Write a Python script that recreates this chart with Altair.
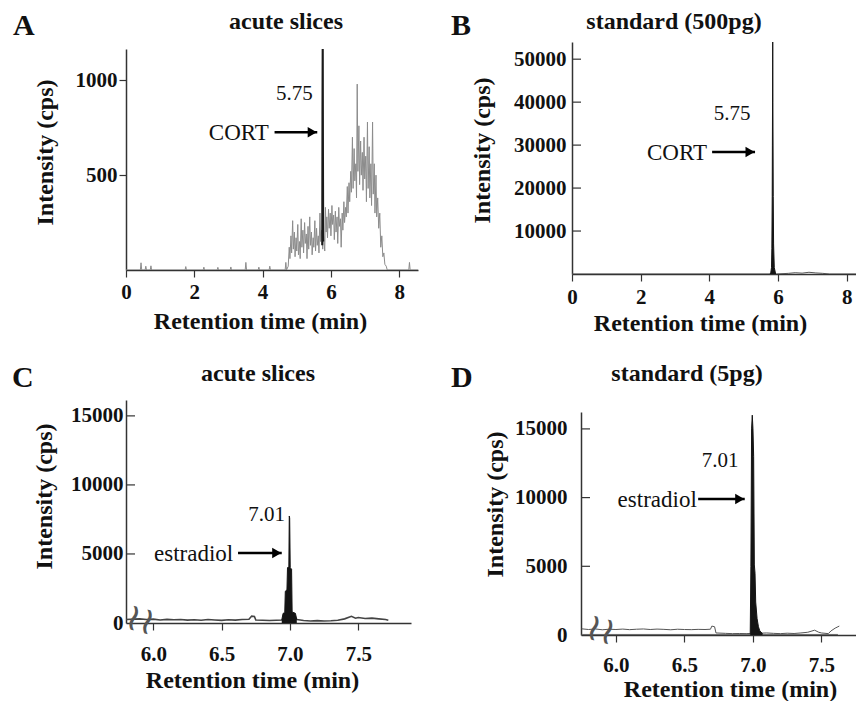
import altair as alt
import pandas as pd

SERIF = "Liberation Serif"
AX = "#333333"
INK = "#111111"

# ---------------- Panel A: acute slices (CORT) ----------------
a_base_x = [0.0, 0.42, 0.44, 0.46, 0.56, 0.58, 0.60, 0.71, 0.73, 0.75, 1.73, 1.75, 1.77,
            2.26, 2.28, 2.30, 2.67, 2.69, 2.71, 3.05, 3.07, 3.09, 3.49, 3.51, 3.53,
            3.87, 3.89, 3.91, 4.19, 4.21, 4.23, 4.66, 4.68, 4.70]
a_base_y = [0, 0, 38, 0, 0, 20, 0, 0, 22, 0, 0, 18, 0,
            0, 15, 0, 0, 14, 0, 0, 16, 0, 0, 40, 0,
            0, 15, 0, 0, 20, 0, 0, 40, 0]
a_noise_x = [4.75, 4.78, 4.80, 4.83, 4.85, 4.88, 4.90, 4.93, 4.95, 4.98,
             5.00, 5.03, 5.05, 5.08, 5.10, 5.13, 5.15, 5.18, 5.20, 5.23,
             5.25, 5.28, 5.30, 5.33, 5.35, 5.38, 5.40, 5.43, 5.45, 5.48,
             5.50, 5.53, 5.55, 5.58, 5.60, 5.63, 5.65, 5.68, 5.70, 5.73,
             5.76, 5.78, 5.82, 5.84, 5.86, 5.88, 5.90, 5.93, 5.95, 5.98,
             6.00, 6.03, 6.05, 6.08, 6.10, 6.13, 6.15, 6.18, 6.20, 6.23,
             6.25, 6.28, 6.30, 6.33, 6.35, 6.38, 6.40, 6.43, 6.45, 6.48,
             6.50, 6.53, 6.55, 6.58, 6.60, 6.63, 6.65, 6.68, 6.70, 6.73,
             6.75, 6.77, 6.79, 6.82, 6.84, 6.87, 6.89, 6.92, 6.94, 6.97,
             6.99, 7.02, 7.04, 7.07, 7.09, 7.12, 7.14, 7.17, 7.19, 7.22,
             7.24, 7.27, 7.29, 7.32, 7.34, 7.37, 7.40, 7.43, 7.46, 7.49,
             7.52, 7.55, 7.58, 7.62, 7.65]
a_noise_y = [20, 120, 60, 180, 90, 260, 110, 200, 70, 170,
             100, 240, 80, 150, 60, 270, 120, 210, 90, 250,
             140, 190, 60, 230, 110, 280, 130, 200, 80, 170,
             120, 260, 100, 220, 130, 180, 90, 300, 150, 210,
             110, 190, 100, 330, 200, 280, 170, 320, 220, 300,
             180, 340, 240, 290, 160, 310, 200, 280, 140, 330,
             230, 270, 120, 300, 210, 360, 250, 330, 280, 440,
             300, 460, 360, 520, 410, 700, 430, 640, 470, 560,
             380, 980, 520, 760, 450, 680, 500, 620, 420, 700,
             480, 600, 360, 780, 430, 650, 380, 560, 340, 780,
             400, 560, 300, 500, 280, 380, 220, 300, 120, 180,
             70, 90, 30, 20, 0]
a_tail_x = [8.28, 8.30, 8.32, 8.55]
a_tail_y = [0, 40, 0, 0]
a_peak_x = [5.745, 5.752, 5.758, 5.762, 5.768, 5.775]
a_peak_y = [130, 820, 1160, 1160, 600, 150]

# ---------------- Panel B: standard 500 pg (CORT) ----------------
b_base_x = [0.0, 5.75, 5.95, 6.3, 6.5, 6.7, 6.9, 7.1, 7.3, 7.5, 8.3]
b_base_y = [0, 0, 0, 150, 300, 200, 400, 250, 150, 0, 0]
b_peak_x = [5.77, 5.79, 5.81, 5.82, 5.83, 5.835, 5.84, 5.845, 5.85, 5.86, 5.87, 5.89, 5.93]
b_peak_y = [0, 400, 1500, 6000, 18000, 30000, 40500, 54000, 40000, 18000, 7000, 1500, 0]

# ---------------- Panel C: acute slices (estradiol) ----------------
c_base_x = [5.80, 5.86, 5.90, 5.95, 6.00, 6.05, 6.10, 6.15, 6.20, 6.25, 6.30, 6.35, 6.40,
            6.45, 6.50, 6.55, 6.60, 6.65, 6.70, 6.72, 6.74, 6.75, 6.80, 6.85, 6.90, 6.95,
            7.00, 7.05, 7.10, 7.15, 7.20, 7.25, 7.30, 7.35, 7.40, 7.45, 7.48, 7.50, 7.55,
            7.60, 7.65, 7.70, 7.72]
c_base_y = [250, 280, 300, 250, 280, 220, 260, 230, 250, 210, 240, 200, 250,
            220, 190, 230, 210, 250, 270, 500, 480, 220, 200, 180, 200, 220,
            260, 250, 180, 150, 170, 140, 160, 200, 300, 480, 350, 400, 330,
            350, 300, 250, 200]
c_peak_x = [6.94, 6.95, 6.962, 6.966, 6.978, 6.982, 6.992, 6.995, 6.998, 7.002,
            7.012, 7.016, 7.04, 7.05]
c_peak_y = [220, 700, 750, 2300, 2400, 4000, 4100, 7750, 7600, 4000,
            3900, 800, 700, 250]

# ---------------- Panel D: standard 5 pg (estradiol) ----------------
d_base_x = [5.75, 5.80, 5.85, 5.90, 5.95, 6.00, 6.05, 6.10, 6.15, 6.20, 6.25, 6.30,
            6.35, 6.40, 6.45, 6.50, 6.55, 6.60, 6.65, 6.69, 6.70, 6.72, 6.73, 6.80,
            6.85, 6.90, 6.95, 7.00, 7.05, 7.10, 7.15, 7.20, 7.25, 7.30, 7.35, 7.40,
            7.45, 7.48, 7.50, 7.55, 7.57, 7.60, 7.62, 7.63]
d_base_y = [450, 400, 440, 380, 420, 400, 430, 390, 420, 440, 400, 430,
            410, 380, 420, 400, 390, 410, 400, 420, 650, 600, 150, 120,
            100, 110, 100, 120, 130, 150, 120, 100, 130, 110, 150, 200,
            350, 200, 150, 100, 300, 500, 600, 650]
d_floor_x = [5.75, 7.62]
d_floor_y = [40, 40]
d_peak_x = [6.98, 6.985, 6.99, 6.995, 7.0, 7.005, 7.01, 7.015, 7.02, 7.03, 7.04, 7.05, 7.07]
d_peak_y = [100, 5000, 15000, 16000, 15000, 13000, 5100, 4500, 2400, 1200, 600, 300, 100]

# ---------------- annotations (data units) ----------------
panels = {
    "A": dict(title="acute slices", xdom=[0, 8.55], ydom=[0, 1165],
              xticks=[0, 2, 4, 6, 8], xfmt="d", yticks=[500, 1000],
              num="5.75", num_xy=[4.93, 930], name="CORT", name_xy=[4.18, 726],
              arrow=[4.35, 5.6, 726]),
    "B": dict(title="standard (500pg)", xdom=[0, 8.27], ydom=[0, 54000],
              xticks=[0, 2, 4, 6, 8], xfmt="d", yticks=[10000, 20000, 30000, 40000, 50000],
              num="5.75", num_xy=[4.66, 37200], name="CORT", name_xy=[3.93, 28400],
              arrow=[4.08, 5.33, 28400]),
    "C": dict(title="acute slices", xdom=[5.80, 7.886], ydom=[0, 16150],
              xticks=[6.0, 6.5, 7.0, 7.5], xfmt=".1f", yticks=[0, 5000, 10000, 15000],
              num="7.01", num_xy=[6.83, 7830], name="estradiol", name_xy=[6.585, 5070],
              arrow=[6.62, 6.94, 5070], brk=[5.905, 150]),
    "D": dict(title="standard (5pg)", xdom=[5.745, 7.752], ydom=[0, 16230],
              xticks=[6.0, 6.5, 7.0, 7.5], xfmt=".1f", yticks=[0, 5000, 10000, 15000],
              num="7.01", num_xy=[6.76, 12660], name="estradiol", name_xy=[6.59, 9900],
              arrow=[6.60, 6.94, 9900], brk=[5.89, 300]),
}

# layout / style (pixels): w, h = group size; top = where the y range ends inside the group
style = {
    "A": dict(w=292, h=228, top=7, yout=True, ylabpad=2, ytx=-81, yty=110, xlabpad=4,
              xtx=134, xty=58, let=(-113, -7), tit=(160, -13)),
    "B": dict(w=284, h=232, top=0, yout=False, ylabpad=6, ytx=-90, yty=108, xlabpad=5,
              xtx=128, xty=56, let=(-121, -7), tit=(102, -13)),
    "C": dict(w=285, h=223, top=0, yout=False, ylabpad=3, ytx=-82, yty=96, xlabpad=13,
              xtx=126, xty=64, let=(-114, -13), tit=(132, -19)),
    "D": dict(w=275, h=235, top=12, yout=False, ylabpad=14, ytx=-86, yty=104, xlabpad=12,
              xtx=149, xty=61, let=(-130, -13), tit=(106, -19)),
}


def one_row(**kw):
    return pd.DataFrame({k: [v] for k, v in kw.items()})


def make_panel(key, traces, peak, peak_kind):
    p, s = panels[key], style[key]
    xs = alt.Scale(domain=p["xdom"], nice=False, zero=False)
    ys = alt.Scale(domain=p["ydom"], nice=False, zero=False, range=[s["h"], s["top"]])
    xaxis = alt.Axis(values=p["xticks"], format=p["xfmt"], title="Retention time (min)",
                     tickSize=7, labelPadding=s["xlabpad"], titleX=s["xtx"], titleY=s["xty"],
                     titleAlign="center", titleBaseline="alphabetic", grid=False,
                     labelFlush=False, labelOverlap=False)
    yaxis = alt.Axis(values=p["yticks"], format="d", title="Intensity (cps)",
                     ticks=s["yout"], tickSize=7 if s["yout"] else 0,
                     labelPadding=s["ylabpad"], titleX=s["ytx"], titleY=s["yty"],
                     titleAngle=270, titleAlign="center", titleBaseline="middle",
                     grid=False, labelFlush=False, labelOverlap=False)
    X = lambda f: alt.X(f, type="quantitative", scale=xs, axis=xaxis)
    Y = lambda f: alt.Y(f, type="quantitative", scale=ys, axis=yaxis)

    layers = []
    for (tx, ty, color, sw) in traces:
        df = pd.DataFrame({"t": tx, "i": ty})
        layers.append(alt.Chart(df).mark_line(color=color, strokeWidth=sw, clip=True).encode(
            x=X("t"), y=Y("i")))
    pk = pd.DataFrame({"t": peak[0], "i": peak[1]})
    if peak_kind == "line":
        layers.append(alt.Chart(pk).mark_line(color="#1a1a1a", strokeWidth=2, clip=True)
                      .encode(x=X("t"), y=Y("i")))
    else:
        layers.append(alt.Chart(pk).mark_area(color="#141414", opacity=1, clip=True,
                                              line={"color": "#141414", "strokeWidth": 1})
                      .encode(x=X("t"), y=Y("i")))
    if not s["yout"]:
        tk = pd.DataFrame({"t": [v for v in p["yticks"] if v > 0]})
        layers.append(alt.Chart(tk).mark_rule(color=AX, strokeWidth=1.2).encode(
            y=Y("t"), x=alt.value(0), x2=alt.value(9)))
    x0, x1, ay = p["arrow"]
    ar = one_row(t=x0, b=x1, i=ay)
    layers.append(alt.Chart(ar).mark_rule(color="black", strokeWidth=2.6).encode(
        x=X("t"), x2=alt.X2("b"), y=Y("i")))
    layers.append(alt.Chart(ar).mark_point(shape="triangle-right", filled=True, size=110,
                                           color="black", opacity=1, xOffset=-5).encode(
        x=X("b"), y=Y("i")))
    layers.append(alt.Chart(one_row(t=p["num_xy"][0], i=p["num_xy"][1], s=p["num"]))
                  .mark_text(font=SERIF, fontSize=21, color=INK, align="center", baseline="middle")
                  .encode(x=X("t"), y=Y("i"), text="s:N"))
    layers.append(alt.Chart(one_row(t=p["name_xy"][0], i=p["name_xy"][1], s=p["name"]))
                  .mark_text(font=SERIF, fontSize=23, color=INK, align="right", baseline="middle", dy=1)
                  .encode(x=X("t"), y=Y("i"), text="s:N"))
    if "brk" in p:
        layers.append(alt.Chart(one_row(t=p["brk"][0], i=p["brk"][1], s="\u2240\u2240"))
                      .mark_text(font="DejaVu Sans", fontSize=38, color="#555555", angle=15,
                                 align="center", baseline="middle")
                      .encode(x=X("t"), y=Y("i"), text="s:N"))
    layers.append(alt.Chart(one_row(s=key)).mark_text(
        font=SERIF, fontSize=30, fontWeight="bold", color=INK, align="left",
        baseline="alphabetic").encode(x=alt.value(s["let"][0]), y=alt.value(s["let"][1]),
                                      text="s:N"))
    layers.append(alt.Chart(one_row(s=p["title"])).mark_text(
        font=SERIF, fontSize=24, fontWeight="bold", color=INK, align="center",
        baseline="alphabetic").encode(x=alt.value(s["tit"][0]), y=alt.value(s["tit"][1]),
                                      text="s:N"))
    return alt.layer(*layers).properties(width=s["w"], height=s["h"])


pA = make_panel("A", [(a_base_x + a_noise_x + a_tail_x, a_base_y + a_noise_y + a_tail_y,
                       "#8c8c8c", 1)], (a_peak_x, a_peak_y), "line")
pB = make_panel("B", [(b_base_x, b_base_y, "#555555", 1)], (b_peak_x, b_peak_y), "area")
pC = make_panel("C", [(c_base_x, c_base_y, "#444444", 1.6)], (c_peak_x, c_peak_y), "area")
pD = make_panel("D", [(d_base_x, d_base_y, "#555555", 1), (d_floor_x, d_floor_y, "#666666", 1)],
                (d_peak_x, d_peak_y), "area")

chart = alt.vconcat(
    alt.hconcat(pA, pB, spacing=33),
    alt.hconcat(pC, pD, spacing=40),
    spacing=27,
).properties(
    padding={"left": 4, "top": 2, "right": 0, "bottom": 0}, background="white"
).configure_view(stroke=None).configure_axis(
    domainColor=AX, domainWidth=1.5, tickColor=AX, tickWidth=1.2,
    labelFont=SERIF, labelFontSize=21, labelFontWeight="bold", labelColor=INK,
    titleFont=SERIF, titleFontSize=24, titleFontWeight="bold", titleColor=INK,
)

chart.save("out.html", embed_options={"renderer": "svg", "actions": False})
